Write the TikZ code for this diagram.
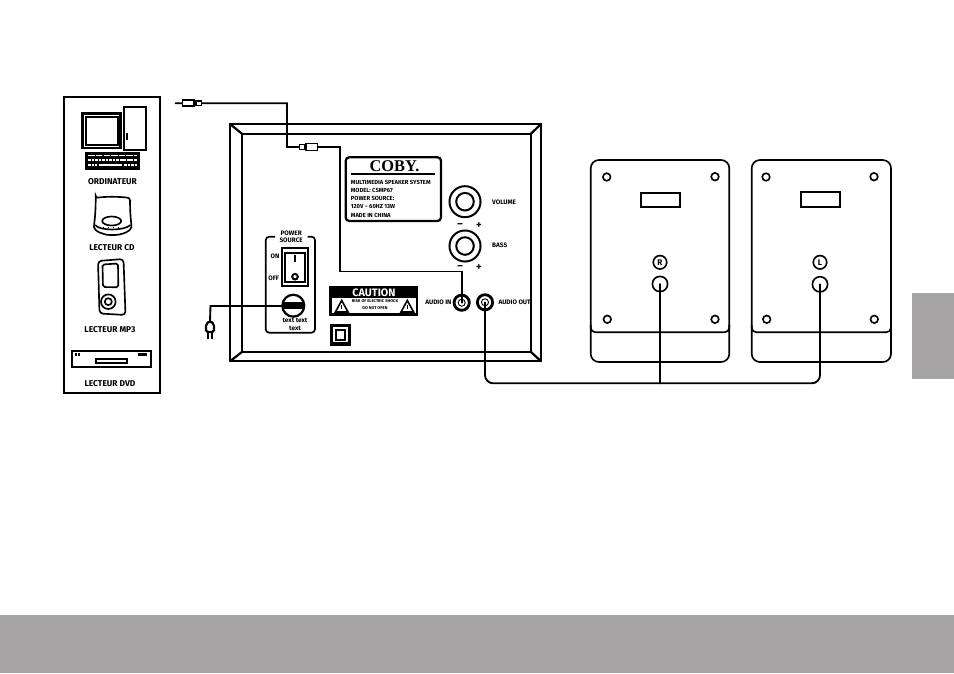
\documentclass[tikz,border=0pt]{standalone}
\usepackage{fontspec}
\setmainfont{Fira Sans}
\newfontfamily\brandfont{Liberation Serif}
\usetikzlibrary{positioning,calc}
\definecolor{tabgray}{HTML}{A7A5A6}

\begin{document}
\begin{tikzpicture}
        [x=0.03cm,y=-0.03cm,
        thk/.style={line width=1.9pt},
        med/.style={line width=1.4pt},
        cable/.style={line width=1.6pt,line cap=round},
        keyrow/.style={white,line width=1.5pt},
        caption/.style={font=\fontsize{7.2}{8}\bfseries\selectfont,inner sep=0pt},
        tiny/.style={font=\fontsize{5.5}{6.2}\bfseries\selectfont,inner sep=0pt,align=center},
        labeltext/.style={font=\fontsize{5}{5}\bfseries\selectfont,inner sep=0pt,anchor=west},
        signs/.style={font=\fontsize{9}{9}\bfseries\selectfont,inner sep=0pt},
        socket/.style={circle,draw,inner sep=0pt,line width=2.4pt,minimum size=13pt,fill=white},
        spkhole/.style={circle,draw,inner sep=0pt,line width=1.4pt,minimum size=6.5pt},
        spkjack/.style={circle,draw,inner sep=0pt,line width=1.4pt,minimum size=13pt},
        badge/.style={circle,draw,inner sep=0pt,line width=1.4pt,minimum size=11.5pt,font=\fontsize{7}{7}\bfseries\selectfont},
        knob/.style={circle,draw,inner sep=0pt,line width=1.7pt,fill=white}]

        \useasboundingbox (0,0) rectangle (954,673);

        \fill[tabgray] (0,615) rectangle (954,673);
        \fill[tabgray] (912,293) rectangle (954,379);

        \begin{scope}[shift={(0,0)}]
            \draw[thk] (64,97) rectangle (160,393);

            \draw[thk] (82.5,113.5) rectangle (120.5,148);
            \draw[med] (85.7,117.3) rectangle (117.7,145);
            \draw[thk] (124.3,107.3) rectangle (145.7,150);
            \draw[thk] (127,133) -- (127,140);

            \draw[med,fill=black] (86,152.7) rectangle (139,168.7);
            \draw[keyrow,dash pattern=on 5.5pt off 1pt] (88.3,155.6) -- (137,155.6);
            \draw[keyrow,dash pattern=on 2.2pt off 0.8pt] (88.3,160) -- (137,160);
            \draw[keyrow,dash pattern=on 2.2pt off 0.8pt] (88.3,164.8) -- (97,164.8);
            \draw[keyrow] (99,165) -- (122,165);
            \draw[keyrow,dash pattern=on 2.2pt off 0.8pt] (124,164.8) -- (137,164.8);
            \node[caption] (ordinateur) at (112.5,181.3) {ORDINATEUR};

            \draw[med,rounded corners=2] (95.7,198) .. controls (105,196.5) and (119,196.5) .. (130,198)
                .. controls (130,208) and (130.5,218) .. (131.5,225)
                .. controls (131,231) and (122,235) .. (112,235)
                .. controls (104,235) and (94,231) .. (94,225)
                .. controls (95,218) and (95.7,208) .. (95.7,198) -- cycle;
            \draw[med] (95,225) .. controls (100,231) and (124,231) .. (130.5,225);
            \draw[med] (111.7,221) ellipse (9.5 and 4.5);
            \draw[line width=1.2pt,dash pattern=on 1pt off 3.2pt] (103,227.3) -- (122,227.3);
            \node[caption] (lecteurcd) at (112,248) {LECTEUR CD};

            \draw[med,rounded corners=3] (98,261) -- (123.5,259) -- (125.5,315) -- (99.5,313.5) -- cycle;
            \draw[med,rounded corners=1.5] (102.5,264.5) -- (118,263.5) -- (118.3,287.3) -- (103,287) -- cycle;
            \draw[med] (108.3,301.7) circle (7.3);
            \draw[med] (108.3,301.7) circle (3.5);
            \node[caption] (lecteurmp) at (110,330) {LECTEUR MP3};

            \draw[thk] (72.3,350.7) rectangle (150.7,367.3);
            \draw[med] (96.3,359.3) rectangle (126.7,363.3);
            \fill (75,353.2) rectangle (77,355.5);
            \fill (78,353.2) rectangle (80,355.5);
            \fill (138.3,353.2) rectangle (146.7,355.5);
            \node[caption] (lecteurdvd) at (110,383.3) {LECTEUR DVD};
        \end{scope}

        \begin{scope}[shift={(0,0)}]
            \draw[thk] (230,124) rectangle (541,361.3);
            \draw[thk] (242.3,134) rectangle (530.7,351.7);
            \draw[thk] (230,124) -- (242.3,134);
            \draw[thk] (541,124) -- (530.7,134);
            \draw[thk] (230,361.3) -- (242.3,351.7);
            \draw[thk] (541,361.3) -- (530.7,351.7);

            \draw[thk,rounded corners=3] (345.7,157.3) rectangle (441,221);
            \draw[thk] (350.7,174) -- (435,174);
            \node[inner sep=0pt,font=\fontsize{14}{14}\bfseries\brandfont] (cobyname) at (394.5,166) {COBY.};
            \node[labeltext] (labelone) at (350.7,182.3) {MULTIMEDIA SPEAKER SYSTEM};
            \node[labeltext] (labeltwo) at (350.7,190) {MODEL: CSMP67};
            \node[labeltext] (labelthree) at (350.7,198.3) {POWER SOURCE:};
            \node[labeltext] (labelfour) at (350.7,206.7) {120V \textasciitilde{} 60HZ 13W};
            \node[labeltext] (labelfive) at (350.7,215) {MADE IN CHINA};

            \node[knob,minimum size=26.5pt] (volume) at (465,201.7) {};
            \node[knob,minimum size=15pt] (volumein) at (465,201.7) {};
            \node[knob,minimum size=26.5pt] (bass) at (465,246) {};
            \node[knob,minimum size=15pt] (bassin) at (465,246) {};
            \node[tiny,anchor=west] (volumetext) at (492,202) {VOLUME};
            \node[tiny,anchor=west] (basstext) at (492,245) {BASS};
            \node[signs] (volminus) at (460,225.7) {--};
            \node[signs] (volplus) at (479,225.7) {+};
            \node[signs] (bassminus) at (460,267.3) {--};
            \node[signs] (bassplus) at (479,267.3) {+};

            \draw[med,rounded corners=3] (275,236.7) -- (265.7,236.7) -- (265.7,332.7) -- (315,332.7) -- (315,236.7) -- (307.5,236.7);
            \node[tiny] (powertext) at (291.2,236.8) {POWER\\SOURCE};
            \node[tiny] (ontext) at (275,256.7) {ON};
            \node[tiny] (offtext) at (273.7,278.3) {OFF};
            \draw[thk] (281.7,248.3) rectangle (308.3,285.7);
            \draw[med] (285,252.7) rectangle (305,281.7);
            \draw[thk] (295,255) -- (295,261.5);
            \draw[line width=1.7pt] (295,276.7) circle (2.8);
            \node[circle,draw,thk,fill=white,minimum size=18.7pt,inner sep=0pt] (socketround) at (293.3,305.7) {};
            \fill (282.3,302.3) rectangle (304.3,309);
            \node[tiny] (sockettext) at (295,324.3) {text text\\text};

            \fill (329,286) rectangle (418,315.7);
            \fill[white] (332.3,298) rectangle (415.7,313.3);
            \node[inner sep=0pt,text=white,font=\fontsize{9.2}{9}\bfseries\selectfont] (cautiontext) at (374,292.3) {CAUTION};
            \node[inner sep=0pt,font=\fontsize{3.5}{3}\bfseries\selectfont] (cautionone) at (375,301.3) {RISK OF ELECTRIC SHOCK};
            \node[inner sep=0pt,font=\fontsize{3.5}{3}\bfseries\selectfont] (cautiontwo) at (375,308) {DO NOT OPEN};
            \draw[med,line join=miter] (341.7,300.5) -- (348,312) -- (335.4,312) -- cycle;
            \draw[med,line join=miter] (407.3,300.5) -- (413.6,312) -- (401,312) -- cycle;
            \draw[thick] (341.7,304.5) -- (341.7,309);
            \draw[thick] (407.3,304.5) -- (407.3,309);

            \draw[line width=2.8pt] (331.5,325.5) rectangle (349.5,344);
            \draw[thk] (335.7,330) rectangle (345.3,340);

            \node[socket] (audioin) at (461.7,302.7) {};
            \node[socket] (audioout) at (485,302.3) {};
            \node[circle,draw,thick,minimum size=6pt,inner sep=0pt] (audioinhole) at (461.7,302.7) {};
            \node[circle,draw,thick,minimum size=6pt,inner sep=0pt] (audioouthole) at (485,302.3) {};
            \node[tiny,anchor=east] (audiointext) at (451.7,302) {AUDIO IN};
            \node[tiny,anchor=west] (audioouttext) at (498.3,302) {AUDIO OUT};
        \end{scope}

        \begin{scope}[shift={(590.7,160)}]
            \draw[med,rounded corners=7] (0,0) rectangle (138.6,202);
            \draw[med,rounded corners=4] (0,165) -- (0,172.3) -- (138.6,172.3) -- (138.6,165);
            \node[spkhole] (holea) at (16,17) {};
            \node[spkhole] (holeb) at (124.3,16.7) {};
            \node[spkhole] (holec) at (16.6,159.3) {};
            \node[spkhole] (holed) at (124.3,159.3) {};
            \draw[med] (50,32.7) rectangle (89.3,47.3);
            \node[badge] (badger) at (69.3,102.3) {R};
            \node[spkjack] (jackr) at (69.3,124) {};
        \end{scope}

        \begin{scope}[shift={(751.7,160)}]
            \draw[med,rounded corners=7] (0,0) rectangle (139.3,202);
            \draw[med,rounded corners=4] (0,165) -- (0,172.3) -- (139.3,172.3) -- (139.3,165);
            \node[spkhole] (holee) at (14.3,17) {};
            \node[spkhole] (holef) at (122.3,16.7) {};
            \node[spkhole] (holeg) at (15,159.3) {};
            \node[spkhole] (holeh) at (122.6,159.3) {};
            \draw[med] (49.6,32.3) rectangle (88.6,46.7);
            \node[badge] (badgel) at (68.3,102.3) {L};
            \node[spkjack] (jackl) at (68.3,124.3) {};
        \end{scope}

        \coordinate (inputend) at (175.5,103.3);
        \coordinate (midtop) at (287,103.3);
        \coordinate (midrun) at (340,271.5);
        \coordinate (plugtop) at (210,321);
        \coordinate (plugbend) at (210.5,306);
        \coordinate (busr) at ($(jackr.center)+(0,99.3)$);
        \coordinate (busl) at ($(jackl.center)+(0,99)$);

        \node[draw,med,minimum width=10pt,minimum height=5pt,inner sep=0pt] (inputbody) at (188.3,103.2) {};
        \node[draw,med,minimum width=5pt,minimum height=4pt,inner sep=0pt,right=0pt of inputbody] (inputtip) {};
        \node[draw,med,minimum width=4.5pt,minimum height=4pt,inner sep=0pt] (paneltip) at (302,147) {};
        \node[draw,med,minimum width=9.5pt,minimum height=6pt,inner sep=0pt,right=0pt of paneltip] (panelbody) {};

        \draw[cable] (inputend) -- (inputbody.west);
        \draw[cable] (inputtip.east) -- (midtop) -- (midtop |- paneltip.west) -- (paneltip.west);
        \draw[cable] (panelbody.east) -- (panelbody.east -| midrun) -- (midrun) -- (midrun -| audioin.center) -- (audioin.center);
        \draw[cable] (plugtop) -- (plugbend) -- (socketround.west |- plugbend);

        \draw[thk,fill=white,rounded corners=1.5] (plugtop) -- (214,324) -- (214,332) -- (206,332) -- (206,324) -- cycle;
        \draw[line width=1.7pt] (207.8,332) -- (207.8,339);
        \draw[line width=1.7pt] (212.2,332) -- (212.2,339);

        \draw[cable,rounded corners=7] (audioout.center) -- (audioout.center |- busr) -- (busl) -- (jackl.center);
        \draw[cable] (jackr.center) -- (busr);
\end{tikzpicture}
\end{document}
